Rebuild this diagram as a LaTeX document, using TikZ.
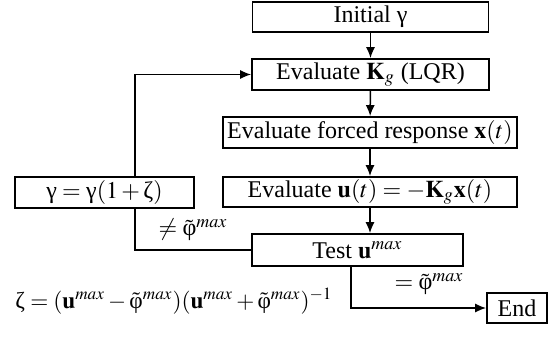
\documentclass[tikz,border=0pt]{standalone}
\usepackage{mathptmx}
\usepackage[no-math]{fontspec}
\setmainfont{Liberation Serif}
\usetikzlibrary{arrows.meta,calc}
\newcommand{\ugam}{\mbox{γ}}
\newcommand{\uzeta}{\mbox{ζ}}
\newcommand{\uphi}{\tilde{\mbox{φ}}}
\begin{document}
\begin{tikzpicture}[x=0.5pt,y=-0.5pt,
  box/.style={draw,line width=0.85pt,inner sep=0pt,font=\fontsize{12}{14}\selectfont},
  conn/.style={line width=0.75pt},
  arr/.style={conn,-{Latex[length=5.5pt,width=4.5pt]}},
  lbl/.style={font=\fontsize{12}{14}\selectfont,inner sep=0pt}]
\useasboundingbox (0,0) rectangle (551,337);
\node[box,minimum width=118pt,minimum height=15pt] (init) at (370.5,17) {Initial \ugam};
\node[box,minimum width=118.5pt,minimum height=15.5pt] (kg) at (370.5,74.5) {Evaluate $\mathbf{K}_g$ (LQR)};
\node[box,minimum width=147pt,minimum height=15.5pt] (forced) at (370,132.5) {Evaluate forced response $\mathbf{x}(t)$};
\node[box,minimum width=147pt,minimum height=15pt] (ut) at (370,192) {Evaluate $\mathbf{u}(t)=-\mathbf{K}_g\mathbf{x}(t)$};
\node[box,minimum width=105.5pt,minimum height=16pt] (test) at (357.5,250) {Test $\mathbf{u}^{max}$};
\node[box,minimum width=89.5pt,minimum height=15.5pt] (gam) at (104.5,192.5) {$\ugam=\ugam(1+\uzeta)$};
\node[box,minimum width=30pt,minimum height=15pt] (end) at (517,308) {End};
\coordinate (tb) at (351,266);
\coordinate (tc) at (351,308);
\coordinate (fl) at (135,250);
\coordinate (fb) at (135,208);
\coordinate (ft) at (135,177);
\coordinate (fu) at (135,74.5);
\draw[arr] (init) -- (kg);
\draw[arr] (kg) -- (forced);
\draw[arr] (forced) -- (ut);
\draw[arr] (ut.south) -- (ut.south |- test.north);
\draw[conn] (test.west) -- (fl) -- (fb);
\draw[arr] (ft) -- (fu) -- (kg.west);
\draw[arr] (tb) -- (tc) -- (end.west);
\node[lbl] (ne) at (193,230) {$\neq\uphi^{max}$};
\node[lbl] (eq) at (429,284) {$=\uphi^{max}$};
\node[lbl,font=\fontsize{11.6}{14}\selectfont] (zeta) at (174,301) {$\uzeta=(\mathbf{u}^{max}-\uphi^{max})(\mathbf{u}^{max}+\uphi^{max})^{-1}$};
\end{tikzpicture}
\end{document}
